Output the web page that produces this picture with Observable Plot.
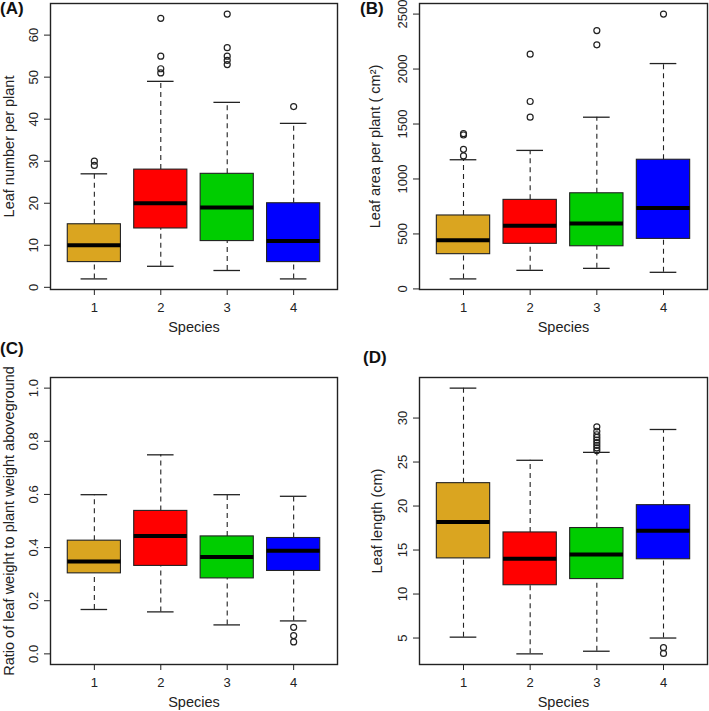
<!DOCTYPE html>
<html>
<head>
<meta charset="utf-8">
<script src="https://cdn.jsdelivr.net/npm/d3@7"></script>
<script src="https://cdn.jsdelivr.net/npm/@observablehq/plot@0.6"></script>
<style>
  html, body { margin: 0; padding: 0; background: #fff; }
  #wrap { position: relative; width: 709px; height: 711px; overflow: hidden; background: #fff;
          font-family: 'Liberation Sans', Arial, sans-serif; color: #222; }
  .panel { position: absolute; }
  .lab { position: absolute; font-weight: bold; font-size: 17px; line-height: 17px; color: #111; }
</style>
</head>
<body>
<div id="wrap"></div>
<script>
// ---------- data ----------
const species = [1, 2, 3, 4];
const boxColors = ["#DAA520", "#FF0000", "#00CD00", "#0000FF"];
const xTitle = "Species";

// (A) Leaf number per plant
const aLow  = [2, 5, 4, 2];
const aQ1   = [6, 14, 11, 6];
const aMed  = [10, 20, 19, 11];
const aQ3   = [15, 28, 27, 20];
const aHigh = [27, 49, 44, 39];
const aOut  = [[29, 30], [51, 52, 55, 64], [53, 54, 55, 57, 65], [43]];
const aTicks = [0, 10, 20, 30, 40, 50, 60];

// (B) Leaf area per plant
const bLow  = [91, 169, 187, 151];
const bQ1   = [316, 410, 388, 455];
const bMed  = [443, 575, 594, 736];
const bQ3   = [668, 810, 870, 1175];
const bHigh = [1175, 1260, 1562, 2050];
const bOut  = [[1210, 1270, 1400, 1412], [1562, 1705, 2135], [2220, 2350], [2500]];
const bTicks = [0, 500, 1000, 1500, 2000, 2500];

// (C) Ratio of leaf weight to plant weight aboveground
const cLow  = [0.167, 0.158, 0.109, 0.124];
const cQ1   = [0.303, 0.331, 0.284, 0.312];
const cMed  = [0.348, 0.444, 0.365, 0.388];
const cQ3   = [0.426, 0.538, 0.442, 0.436];
const cHigh = [0.599, 0.749, 0.599, 0.593];
const cOut  = [[], [], [], [0.100, 0.069, 0.045]];
const cTicks = [0.0, 0.2, 0.4, 0.6, 0.8, 1.0];
const cLimits = [0, 1];

// (D) Leaf length (cm)
const dLow  = [5.1, 3.2, 3.5, 5.0];
const dQ1   = [14.05, 11.0, 11.7, 13.95];
const dMed  = [18.2, 14.0, 14.5, 17.2];
const dQ3   = [22.6, 17.0, 17.5, 20.1];
const dHigh = [33.4, 25.2, 26.1, 28.7];
const dOut  = [[], [], [26.3, 26.6, 26.9, 27.2, 27.5, 27.8, 28.1, 28.5, 29.0], [3.9, 3.25]];
const dTicks = [5, 10, 15, 20, 25, 30];

// ---------- drawing ----------
const INK = "#222";
function padded(lo, hi) { const r = hi - lo; return [lo - 0.04 * r, hi + 0.04 * r]; }

function panel(cfg) {
  const rows = species.map((s, i) => ({
    s, low: cfg.low[i], q1: cfg.q1[i], med: cfg.med[i], q3: cfg.q3[i], high: cfg.high[i]
  }));
  const outs = species.flatMap((s, i) => cfg.out[i].map(v => ({ s, v })));
  const all = rows.flatMap(r => [r.low, r.high]).concat(outs.map(o => o.v));
  const yDomain = cfg.limits ? padded(cfg.limits[0], cfg.limits[1]) : padded(d3.min(all), d3.max(all));
  const p = Plot.plot({
    width: cfg.width, height: cfg.height,
    marginLeft: cfg.ml, marginRight: cfg.mr, marginTop: cfg.mt, marginBottom: cfg.mb,
    style: { fontFamily: "'Liberation Sans', Arial, sans-serif", fontSize: "13px", color: INK, background: "white", overflow: "visible" },
    x: { domain: [0.34, 4.66] },
    y: { domain: yDomain },
    color: { type: "ordinal", domain: species, range: boxColors },
    marks: [
      Plot.ruleX(rows, { x: "s", y1: "q3", y2: "high", stroke: INK, strokeWidth: 1.1, strokeDasharray: "5,4" }),
      Plot.ruleX(rows, { x: "s", y1: "low", y2: "q1", stroke: INK, strokeWidth: 1.1, strokeDasharray: "5,4" }),
      Plot.ruleY(rows, { y: "high", x1: d => d.s - 0.2, x2: d => d.s + 0.2, stroke: INK, strokeWidth: 1.3 }),
      Plot.ruleY(rows, { y: "low", x1: d => d.s - 0.2, x2: d => d.s + 0.2, stroke: INK, strokeWidth: 1.3 }),
      Plot.rect(rows, { x1: d => d.s - 0.4, x2: d => d.s + 0.4, y1: "q1", y2: "q3", fill: "s", stroke: INK, strokeWidth: 1.1 }),
      Plot.ruleY(rows, { y: "med", x1: d => d.s - 0.4, x2: d => d.s + 0.4, stroke: "#000", strokeWidth: 4 }),
      Plot.dot(outs, { x: "s", y: "v", r: 3, fill: "none", stroke: INK, strokeWidth: 1.2 }),
      Plot.frame({ stroke: INK, strokeWidth: 1.4 }),
      Plot.axisX(species, { tickSize: 6, tickPadding: 7, label: null, fontSize: 13 }),
      Plot.axisY(cfg.ticks, { tickSize: 6, tickPadding: 7, tickRotate: -90, label: null, fontSize: 13, tickFormat: cfg.fmt }),
      Plot.text([cfg.yTitle], { frameAnchor: "left", textAnchor: "middle", lineAnchor: "middle", rotate: -90, dx: cfg.titleDx, fontSize: 14.5, fill: INK }),
      Plot.text([xTitle], { frameAnchor: "bottom", textAnchor: "middle", lineAnchor: "middle", dy: 38, fontSize: 14.5, fill: INK })
    ]
  });
  p.classList.add("panel");
  p.style.left = cfg.left + "px";
  p.style.top = cfg.top + "px";
  return p;
}

const wrap = document.getElementById("wrap");
const fmtInt = d3.format("d");
wrap.appendChild(panel({ low: aLow, q1: aQ1, med: aMed, q3: aQ3, high: aHigh, out: aOut, ticks: aTicks, fmt: fmtInt,
  yTitle: "Leaf number per plant", titleDx: -41,
  left: 0, top: 0, width: 354, height: 340, ml: 50, mr: 17, mt: 3, mb: 51 }));
wrap.appendChild(panel({ low: bLow, q1: bQ1, med: bMed, q3: bQ3, high: bHigh, out: bOut, ticks: bTicks, fmt: fmtInt,
  yTitle: "Leaf area per plant ( cm²)", titleDx: -44,
  left: 354, top: 0, width: 355, height: 340, ml: 65, mr: 2, mt: 3, mb: 51 }));
wrap.appendChild(panel({ low: cLow, q1: cQ1, med: cMed, q3: cQ3, high: cHigh, out: cOut, ticks: cTicks, fmt: d3.format(".1f"),
  limits: cLimits, yTitle: "Ratio of leaf weight to plant weight aboveground", titleDx: -41,
  left: 0, top: 340, width: 354, height: 371, ml: 50, mr: 17, mt: 37, mb: 47 }));
wrap.appendChild(panel({ low: dLow, q1: dQ1, med: dMed, q3: dQ3, high: dHigh, out: dOut, ticks: dTicks, fmt: fmtInt,
  yTitle: "Leaf length (cm)", titleDx: -42.5,
  left: 354, top: 340, width: 355, height: 371, ml: 65, mr: 2, mt: 37, mb: 47 }));

const labels = [["(A)", 0, 0], ["(B)", 360, 0], ["(C)", 0, 340], ["(D)", 363, 349]];
for (const [t, x, y] of labels) {
  const el = document.createElement("div");
  el.className = "lab";
  el.textContent = t;
  el.style.left = x + "px";
  el.style.top = y + "px";
  wrap.appendChild(el);
}
</script>
</body>
</html>
